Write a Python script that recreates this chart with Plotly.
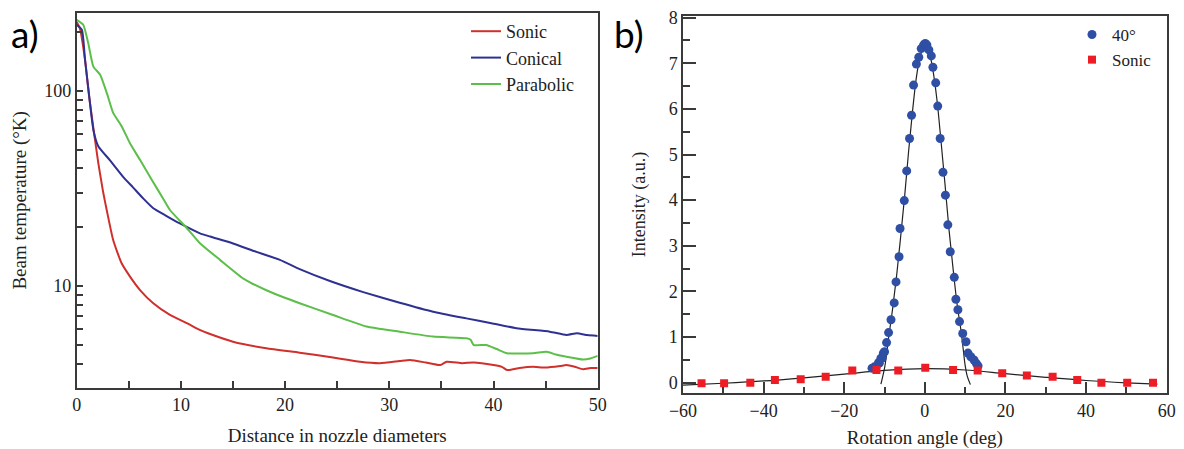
import plotly.graph_objects as go

# ---------------- data: panel a) ----------------
sonic_x = [0.0, 0.3, 0.8, 1.2, 1.66, 2.07, 2.55, 2.88, 3.5, 4.3, 5.1, 6.1, 7.35, 8.95, 10.56,
           11.8, 12.6, 15.0, 18.2, 21.4, 24.6, 27.2, 29.1, 31.0, 32.0, 33.5, 34.9, 35.5, 37.0,
           38.1, 40.0, 40.8, 41.3, 42.5, 43.8, 45.0, 46.4, 47.0, 47.8, 48.6, 49.3, 50.0]
sonic_T = [225, 209, 144, 93, 61, 42.7, 30, 24.5, 17.2, 13.1, 11.2, 9.5, 8.15, 7.1, 6.44,
           5.95, 5.72, 5.18, 4.79, 4.55, 4.3, 4.09, 4.02, 4.12, 4.17, 4.05, 3.93, 4.09, 4.02,
           4.05, 3.93, 3.85, 3.71, 3.8, 3.85, 3.82, 3.89, 3.93, 3.85, 3.74, 3.8, 3.8]

conical_x = [0.0, 0.5, 0.8, 1.2, 1.6, 2.07, 3.2, 4.5, 5.4, 6.4, 7.35, 8.5, 9.9, 11.83, 12.8,
             15.0, 17.0, 19.5, 21.4, 24.3, 27.5, 31.0, 34.2, 37.4, 39.8, 42.2, 45.4, 47.0,
             48.0, 49.0, 50.0]
conical_T = [218, 205, 144, 93.5, 63, 52, 44, 36, 32, 28, 25, 23, 20.9, 18.6, 17.9,
             16.5, 15.1, 13.6, 12.2, 10.6, 9.3, 8.2, 7.38, 6.82, 6.44, 6.07, 5.83, 5.61,
             5.72, 5.6, 5.54]

parabolic_x = [0.0, 0.63, 1.1, 1.6, 2.24, 2.9, 3.5, 4.3, 5.1, 6.1, 7.2, 8.3, 8.95, 10.56,
               11.8, 13.75, 16.0, 18.2, 21.4, 24.6, 27.8, 31.0, 34.2, 37.4, 37.8, 38.1,
               39.3, 40.3, 41.3, 43.8, 45.1, 46.0, 47.0, 48.6, 49.3, 50.0]
parabolic_T = [231, 218, 176, 133, 121, 97, 77, 66, 54, 44, 35, 28, 24.5, 19.8,
               16.6, 13.6, 10.9, 9.5, 8.15, 7.1, 6.2, 5.83, 5.5, 5.39, 5.3, 4.98,
               4.98, 4.75, 4.52, 4.52, 4.6, 4.45, 4.34, 4.2, 4.25, 4.38]

# ---------------- data: panel b) ----------------
deg40_x = [-13.1, -12.5, -12.1, -11.5, -11.3, -10.9, -10.6, -10.3, -10.0, -9.5, -9.0, -8.4,
           -7.6, -7.15, -6.4, -6.15, -5.1, -4.5, -3.8, -3.3, -2.8, -2.1, -1.5, -0.9, -0.3,
           0.1, 0.5, 1.0, 1.6, 2.0, 2.7, 3.2, 3.8, 4.5, 5.1, 5.7, 6.3, 7.3, 7.7, 8.2, 8.6,
           9.4, 10.2, 10.7, 11.4, 12.2, 12.8, 13.2]
deg40_y = [0.32, 0.35, 0.35, 0.44, 0.43, 0.54, 0.54, 0.65, 0.68, 0.88, 1.10, 1.38,
           1.75, 2.21, 2.76, 3.38, 3.99, 4.64, 5.35, 5.86, 6.52, 6.98, 7.13, 7.32, 7.40,
           7.43, 7.40, 7.29, 7.16, 6.91, 6.57, 6.06, 5.35, 4.61, 4.11, 3.46, 2.87, 2.31,
           1.83, 1.60, 1.34, 1.08, 0.90, 0.65, 0.57, 0.50, 0.42, 0.37]

sonic_ang = [-55.4, -49.8, -43.3, -37.2, -30.8, -24.6, -18.0, -12.0, -6.6, 0.1, 7.0,
             13.1, 19.2, 25.3, 31.7, 37.8, 43.8, 50.2, 56.6]
sonic_int = [-0.01, -0.01, 0.0, 0.06, 0.08, 0.13, 0.27, 0.28, 0.27, 0.33, 0.28,
             0.27, 0.21, 0.16, 0.13, 0.06, 0.0, 0.0, 0.0]

fit40_x = [-10.9, -10.5, -10, -9.5, -9, -8, -7, -6, -5, -4, -3, -2, -1, 0, 1, 2, 3, 4, 5,
           6, 7, 8, 9, 9.5, 10, 10.5, 11.3]
fit40_y = [-0.03, 0.12, 0.32, 0.62, 0.98, 1.62, 2.35, 3.2, 4.1, 5.1, 6.0, 6.75, 7.2, 7.38,
           7.25, 6.85, 6.2, 5.3, 4.35, 3.35, 2.5, 1.72, 1.12, 0.75, 0.38, 0.15, -0.04]

fitsonic_x = [-60, -50, -40, -30, -20, -10, 0, 10, 20, 30, 40, 50, 57.7]
fitsonic_y = [-0.05, -0.01, 0.04, 0.11, 0.19, 0.27, 0.31, 0.28, 0.2, 0.12, 0.05, 0.0, -0.03]

a_xticks = [0, 10, 20, 30, 40, 50]
a_yticks = [10, 100]
a_yminor = [4, 5, 6, 7, 8, 9, 20, 30, 40, 50, 60, 70, 80, 90, 200]
b_xticks = [-60, -40, -20, 0, 20, 40, 60]

SERIF = "Liberation Serif, Times New Roman, serif"
AX = "#3a3a3a"
TXT = "#222222"

fig = go.Figure()

fig.add_trace(go.Scatter(x=sonic_x, y=sonic_T, mode="lines", name="Sonic",
                         line=dict(color="#D0302C", width=2, shape="spline", smoothing=0.5),
                         xaxis="x", yaxis="y", legend="legend"))
fig.add_trace(go.Scatter(x=conical_x, y=conical_T, mode="lines", name="Conical",
                         line=dict(color="#2E3192", width=2, shape="spline", smoothing=0.5),
                         xaxis="x", yaxis="y", legend="legend"))
fig.add_trace(go.Scatter(x=parabolic_x, y=parabolic_T, mode="lines", name="Parabolic",
                         line=dict(color="#5CBF4A", width=2, shape="spline", smoothing=0.5),
                         xaxis="x", yaxis="y", legend="legend"))

fig.add_trace(go.Scatter(x=fitsonic_x, y=fitsonic_y, mode="lines", showlegend=False,
                         line=dict(color="#222222", width=1.2, shape="spline"), xaxis="x2", yaxis="y2"))
fig.add_trace(go.Scatter(x=fit40_x, y=fit40_y, mode="lines", showlegend=False,
                         line=dict(color="#222222", width=1.2, shape="spline"), xaxis="x2", yaxis="y2"))
fig.add_trace(go.Scatter(x=deg40_x, y=deg40_y, mode="markers", name="40°",
                         marker=dict(color="#2F4FA5", size=9, symbol="circle"),
                         xaxis="x2", yaxis="y2", legend="legend2"))
fig.add_trace(go.Scatter(x=sonic_ang, y=sonic_int, mode="markers", name="Sonic",
                         marker=dict(color="#EE1C25", size=8, symbol="square"),
                         xaxis="x2", yaxis="y2", legend="legend2"))

common = dict(showline=True, linecolor=AX, linewidth=1.5, mirror=True, showgrid=False,
              zeroline=False, ticks="inside", tickcolor=AX, tickwidth=1.5,
              tickfont=dict(family=SERIF, size=18, color=TXT), automargin=False)

fig.update_layout(
    width=1184, height=449, margin=dict(l=0, r=0, t=0, b=0),
    paper_bgcolor="white", plot_bgcolor="white",
    font=dict(family=SERIF, color=TXT),
    xaxis=dict(domain=[76.7 / 1184, 597.7 / 1184], anchor="y", range=[0, 50],
               tickmode="array", tickvals=a_xticks, ticklen=7,
               minor=dict(dtick=5, ticks="inside", ticklen=7, tickcolor=AX, tickwidth=1.5),
               title=dict(text="Distance in nozzle diameters", font=dict(family=SERIF, size=19, color=TXT), standoff=14),
               **common),
    yaxis=dict(domain=[1 - 388 / 449, 1 - 12.7 / 449], anchor="x", type="log",
               range=[0.477, 2.4], tickmode="array", tickvals=a_yticks,
               ticktext=[str(v) for v in a_yticks], ticklen=7,
               minor=dict(tickvals=a_yminor, ticks="inside", ticklen=7, tickcolor=AX, tickwidth=1.5),
               title=dict(text="Beam temperature (°K)", font=dict(family=SERIF, size=19, color=TXT), standoff=13),
               **common),
    xaxis2=dict(domain=[683 / 1184, 1166.7 / 1184], anchor="y2", range=[-60, 60],
                tickmode="array", tickvals=b_xticks, ticklen=12,
                minor=dict(dtick=10, ticks="inside", ticklen=7, tickcolor=AX, tickwidth=1.5),
                title=dict(text="Rotation angle (deg)", font=dict(family=SERIF, size=19, color=TXT), standoff=12),
                **common),
    yaxis2=dict(domain=[1 - 393.3 / 449, 1 - 15.7 / 449], anchor="x2", range=[-0.23, 8.04],
                dtick=1, tick0=0, ticklen=13,
                minor=dict(dtick=0.5, ticks="inside", ticklen=7, tickcolor=AX, tickwidth=1.5),
                title=dict(text="Intensity (a.u.)", font=dict(family=SERIF, size=18, color=TXT), standoff=18),
                **common),
    legend=dict(x=466 / 1184, y=1 - 13 / 449, xanchor="left", yanchor="top",
                bgcolor="rgba(0,0,0,0)", font=dict(family=SERIF, size=18, color=TXT)),
    legend2=dict(x=1072 / 1184, y=1 - 17 / 449, xanchor="left", yanchor="top",
                 bgcolor="rgba(0,0,0,0)", font=dict(family=SERIF, size=17, color=TXT)),
    annotations=[
        dict(text="a)", x=9 / 1184, y=1 - 33 / 449, xref="paper", yref="paper",
             xanchor="left", yanchor="middle", showarrow=False,
             font=dict(family="Lato", size=37, color="black")),
        dict(text="b)", x=612 / 1184, y=1 - 33 / 449, xref="paper", yref="paper",
             xanchor="left", yanchor="middle", showarrow=False,
             font=dict(family="Lato", size=37, color="black")),
    ],
)

fig.write_html("out.html")
